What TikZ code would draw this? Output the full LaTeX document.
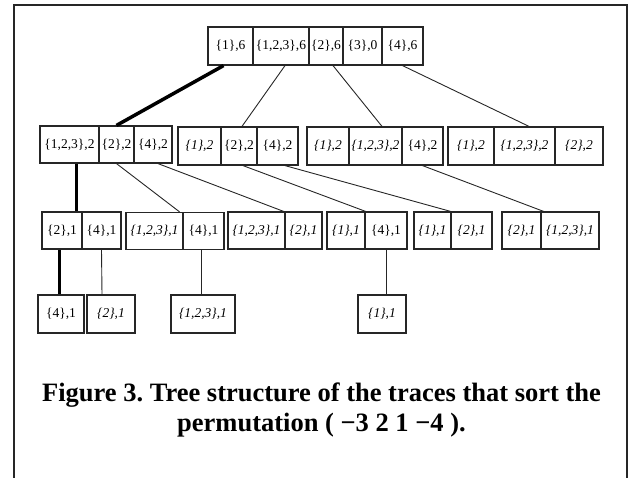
\documentclass[tikz,border=0pt]{standalone}
\usepackage{fontspec}
\setmainfont{Liberation Serif}
\usetikzlibrary{calc}
\tikzset{
  cell/.style={draw=black!85, line width=1.2pt, inner sep=0pt,
    font=\fontsize{13.5}{14}\selectfont},
  edge/.style={draw=black!85, line width=0.9pt},
  heavy/.style={draw=black, line width=3.5pt},
}
\begin{document}
\begin{tikzpicture}[x=1pt,y=-1pt]
\useasboundingbox (0,0) rectangle (630,478);
% outer frame, open at the bottom
\draw[line width=2pt, black!85] (14,480) -- (14,5) -- (627,5) -- (627,480);

% root
\begin{scope}[every node/.style={cell, minimum height=38pt}]
\node[minimum width=45pt] (t1) at (230.5,46) {\{1\},6};
\node[minimum width=56pt] (t2) at (281,46) {\{1,2,3\},6};
\node[minimum width=34pt] (t3) at (326,46) {\{2\},6};
\node[minimum width=39pt] (t4) at (362.5,46) {\{3\},0};
\node[minimum width=41pt] (t5) at (402.5,46) {\{4\},6};
\end{scope}

% second level
\begin{scope}[every node/.style={cell, minimum height=37pt}]
\node[minimum width=59pt] (a1) at (69.5,144.5) {\{1,2,3\},2};
\node[minimum width=35pt] (a2) at (116.5,144.5) {\{2\},2};
\node[minimum width=38pt] (a3) at (153,144.5) {\{4\},2};
\end{scope}
\begin{scope}[every node/.style={cell, minimum height=38pt}]
\node[minimum width=43pt] (b1) at (199.5,146) {\itshape\{1\},2};
\node[minimum width=36pt] (b2) at (239,146) {\{2\},2};
\node[minimum width=41pt] (b3) at (277.5,146) {\{4\},2};
\node[minimum width=42pt] (c1) at (328,146) {\itshape\{1\},2};
\node[minimum width=53pt] (c2) at (375.5,146) {\itshape\{1,2,3\},2};
\node[minimum width=41pt] (c3) at (422.5,146) {\{4\},2\hspace{5pt}};
\node[minimum width=46pt] (d1) at (471,146) {\itshape\{1\},2};
\node[minimum width=61pt] (d2) at (524.5,146) {\itshape\{1,2,3\},2};
\node[minimum width=48pt] (d3) at (579,146) {\itshape\{2\},2\hspace{18pt}};
\end{scope}

% third level
\begin{scope}[every node/.style={cell, minimum height=37pt}]
\node[minimum width=40pt] (e1) at (62,230.5) {\{2\},1};
\node[minimum width=39pt] (e2) at (101.5,230.5) {\{4\},1};
\node[minimum width=57pt] (f1) at (154.5,231) {\itshape\{1,2,3\},1};
\node[minimum width=41pt] (f2) at (203.5,231) {\{4\},1};
\node[minimum width=57pt] (g1) at (256.5,230.5) {\itshape\{1,2,3\},1};
\node[minimum width=37pt] (g2) at (303.5,230.5) {\itshape\{2\},1};
\node[minimum width=38pt] (h1) at (346,230.5) {\itshape\{1\},1};
\node[minimum width=42pt] (h2) at (386,230.5) {\{4\},1};
\node[minimum width=37pt] (i1) at (432.5,230.5) {\itshape\{1\},1};
\node[minimum width=41pt] (i2) at (471.5,230.5) {\itshape\{2\},1};
\node[minimum width=39pt] (j1) at (521.5,230.5) {\itshape\{2\},1};
\node[minimum width=58pt] (j2) at (570,230.5) {\itshape\{1,2,3\},1\hspace{5pt}};
\end{scope}

% leaves
\begin{scope}[every node/.style={cell, minimum height=38pt}]
\node[minimum width=46pt] (k) at (61,314) {\{4\},1};
\node[minimum width=48pt] (l) at (111,314) {\itshape\{2\},1};
\node[minimum width=64pt] (m) at (203,314) {\itshape\{1,2,3\},1};
\node[minimum width=48pt] (n) at (382,314) {\itshape\{1\},1};
\end{scope}

% connectors
\draw[heavy] ($(t1.south)+(-7,0)$) -- (a2.north);
\draw[edge] ($(t2.south)+(4,0)$) -- ($(b2.north)+(3,0)$);
\draw[edge] ($(t3.south)+(7,0)$) -- ($(c2.north)+(6.5,0)$);
\draw[edge] (t5.south) -- ($(d2.north)+(4.5,0)$);

\draw[heavy, line width=3pt] ($(a1.south)+(6.5,0)$) -- ($(e1.north)+(14,0)$);
\draw[edge] (a2.south) -- ($(f1.north east)+(-4,0)$);
\draw[edge] ($(a3.south)+(5,0)$) -- ($(g1.north east)+(-2,0)$);
\draw[edge] ($(b2.south)+(4,0)$) -- (h1.north east);
\draw[edge] ($(b3.south)+(7.5,0)$) -- ($(i1.north east)+(-1,0)$);
\draw[edge] (c3.south) -- ($(j1.north east)+(2,0)$);

\draw[heavy, line width=3pt] ($(e1.south)+(-3,0)$) -- ($(k.north)+(-2,0)$);
\draw[edge] (e2.south) -- ($(l.north)+(-9,0)$);
\draw[edge] ($(f2.south)+(-2.5,0)$) -- ($(m.north)+(-2,0)$);
\draw[edge] (h2.south) -- ($(n.north)+(4,0)$);

% caption
\node[font=\frenchspacing\bfseries\fontsize{26.5}{30}\selectfont, align=center, anchor=base]
  (cap) at (321.5,432)
  {Figure 3. Tree structure of the traces that sort the\\
   permutation ( −3 2 1 −4 ).};
\end{tikzpicture}
\end{document}
